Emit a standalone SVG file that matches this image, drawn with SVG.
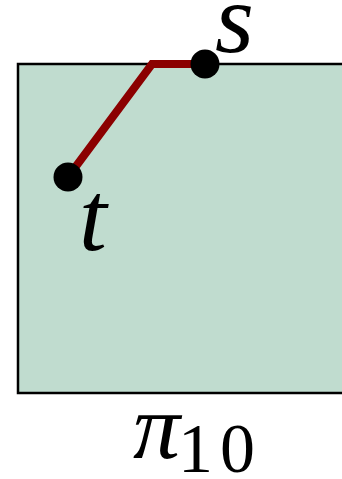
<svg xmlns="http://www.w3.org/2000/svg" width="342" height="479" viewBox="0 0 342 479">
<style>
.lbl{font-family:"Liberation Serif","DejaVu Serif",serif;font-style:italic;fill:#000}
.num{font-family:"Liberation Serif","DejaVu Serif",serif;fill:#000}
</style>
<rect width="342" height="479" fill="#fff"/>
<g id="region">
<rect x="18" y="64" width="340" height="329" fill="#c0dccf" stroke="#000" stroke-width="2.5"/>
</g>
<g id="connectors">
<polyline points="68,177 152,64 205,64" fill="none" stroke="#8b0000" stroke-width="8" stroke-linejoin="miter"/>
</g>
<g id="node-s">
<circle cx="205" cy="64" r="14.5" fill="#000"/>
<text class="lbl" x="215" y="52" font-size="100">s</text>
</g>
<g id="node-t">
<circle cx="68" cy="177" r="14.5" fill="#000"/>
<text class="lbl" x="79" y="250" font-size="100">t</text>
</g>
<g id="label-pi">
<text class="lbl" x="133" y="458" font-size="94">π</text>
<text class="num" x="178" y="472" font-size="70" letter-spacing="7">10</text>
</g>
</svg>
